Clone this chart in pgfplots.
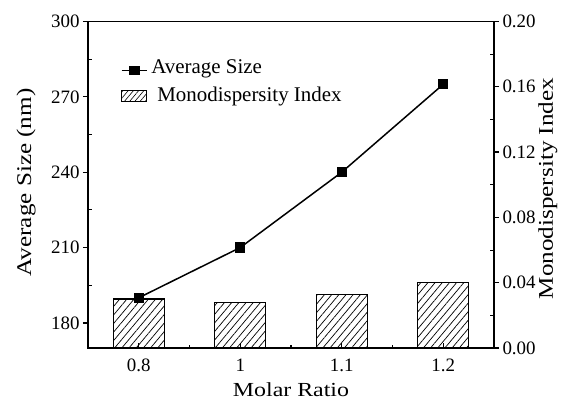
\documentclass[border=0pt]{standalone}
\usepackage{fontspec}
\setmainfont{Liberation Serif}
\usepackage{pgfplots}
\pgfplotsset{compat=1.18}
\usetikzlibrary{patterns.meta}

\pgfplotsset{
  common/.style={
    scale only axis, width=406bp, height=326.5bp,
    at={(0,0)}, anchor=south west,
    xmin=-0.5, xmax=3.5,
    axis line style={black, line width=1.6bp, line cap=rect},
    major tick style={black, line width=1.3bp},
    minor tick style={black, line width=1.1bp},
    major tick length=5bp, minor tick length=3bp,
    tick label style={font=\fontsize{19}{22}\selectfont},
    /pgf/number format/assume math mode=true,
  },
}

\begin{document}
\begin{tikzpicture}
\path[use as bounding box] (-88bp,-51bp) rectangle (485bp,348bp);

% Monodispersity index (bars, right axis)
\begin{axis}[common,
  axis x line*=bottom, axis y line*=right,
  xtick align=inside, ytick align=outside,
  xtick={0,1,2,3}, xticklabels={0.8,1,1.1,1.2},
  xticklabel style={anchor=base, yshift=-23.5bp},
  minor xtick={0.5,1.5,2.5},
  ymin=0, ymax=0.2,
  ytick={0,0.04,0.08,0.12,0.16,0.2},
  extra y ticks={0.02,0.06,0.1,0.14,0.18},
  extra y tick labels={},
  extra y tick style={ytick align=inside, major tick length=4bp, major tick style={line width=1.1bp}},
  yticklabel style={/pgf/number format/fixed, /pgf/number format/fixed zerofill,
    /pgf/number format/precision=2},
  xlabel={Molar Ratio},
  every axis x label/.style={at={(axis description cs:0.5,0)}, anchor=base,
    yshift=-48bp, font=\fontsize{20}{24}\selectfont, xscale=1.2},
  ylabel={Monodispersity Index},
  every axis y label/.style={at={(axis description cs:1.133,0.4885)}, anchor=center,
    rotate=90, xscale=1.2, font=\fontsize{21}{24}\selectfont},
]
\addplot[ybar, bar width=0.5, draw=black, line width=1.1bp,
  pattern={Lines[angle=50, distance=5.5bp, line width=0.7bp]}]
  coordinates {(0,0.030) (1,0.028) (2,0.033) (3,0.040)};
\end{axis}

% Average size (line, left axis)
\begin{axis}[common,
  axis x line*=top, axis y line*=left,
  xtick=\empty,
  ytick align=outside,
  ymin=170, ymax=300,
  ytick={180,210,240,270,300},
  extra y ticks={195,225,255,285},
  extra y tick labels={},
  extra y tick style={ytick align=inside, major tick length=4bp, major tick style={line width=1.1bp}},
  ylabel={Average Size (nm)},
  every axis y label/.style={at={(axis description cs:-0.1527,0.507)}, anchor=center,
    rotate=90, xscale=1.2, font=\fontsize{21}{24}\selectfont},
  legend style={at={(axis description cs:0.0805,0.8934)}, anchor=north west,
    draw=none, fill=none, font=\fontsize{21}{24}\selectfont,
    row sep=5.4bp, column sep=3bp, inner sep=0pt,
    cells={anchor=base west},
    nodes={inner sep=1bp, text height=16bp, text depth=5bp}},
]
\addplot[black, line width=1.5bp, mark=square*, mark size=4.3bp,
  legend image code/.code={
    \draw[black, line width=1.5bp] (0bp,2.8bp) -- (25bp,2.8bp);
    \fill[black] (8.5bp,-1.2bp) rectangle (18bp,6.8bp);}]
  coordinates {(0,190) (1,210) (2,240) (3,275)};
\addlegendentry{Average Size}
\addlegendimage{legend image code/.code={
    \draw[black, line width=1.1bp, pattern={Lines[angle=50, distance=4bp, line width=0.6bp]}]
      (0bp,0.2bp) rectangle (25bp,11.8bp);}}
\addlegendentry{\hspace*{6bp}Monodispersity Index}
\end{axis}
\end{tikzpicture}
\end{document}
